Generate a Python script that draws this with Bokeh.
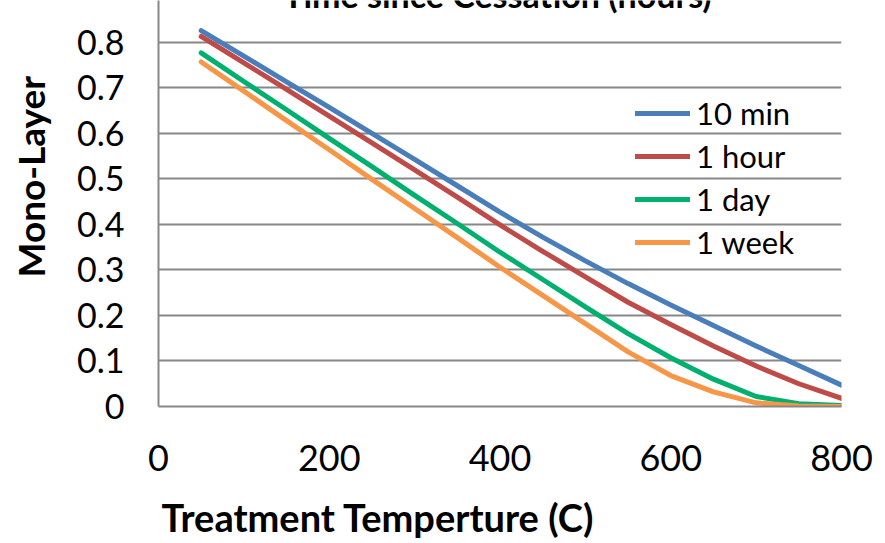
import math
from bokeh.plotting import figure
from bokeh.models import Range1d, Legend, LegendItem, Label, FixedTicker, Title
from bokeh.embed import file_html
from bokeh.resources import INLINE

# ---- data ----
temps = [50, 100, 150, 200, 250, 300, 350, 400, 450, 500, 550, 600, 650, 700, 750, 800]
s_10min = [0.826, 0.770, 0.713, 0.657, 0.600, 0.543, 0.485, 0.427, 0.372, 0.320, 0.270, 0.223, 0.178, 0.133, 0.090, 0.047]
s_1hour = [0.813, 0.755, 0.697, 0.638, 0.579, 0.520, 0.460, 0.399, 0.341, 0.285, 0.229, 0.180, 0.133, 0.089, 0.050, 0.018]
s_1day = [0.777, 0.714, 0.652, 0.589, 0.527, 0.464, 0.402, 0.339, 0.279, 0.219, 0.160, 0.107, 0.060, 0.022, 0.006, 0.002]
s_1week = [0.757, 0.693, 0.628, 0.564, 0.499, 0.435, 0.371, 0.306, 0.244, 0.182, 0.120, 0.068, 0.032, 0.008, 0.001, 0.000]
series_names = ["10 min", "1 hour", "1 day", "1 week"]
colors = ["#4A7EBB", "#BE4B48", "#00B06E", "#F79646"]
x_ticks = [0, 200, 400, 600, 800]
y_ticks = [0, 0.1, 0.2, 0.3, 0.4, 0.5, 0.6, 0.7, 0.8]
y_tick_labels = ["0", "0.1", "0.2", "0.3", "0.4", "0.5", "0.6", "0.7", "0.8"]
title_text = "Time since Cessation (hours)"
x_label = "Treatment Temperture (C)"
y_label = "Mono-Layer"

FONT = "Lato"
GRID = "#878787"

p = figure(width=885, height=543, output_backend="svg", toolbar_location=None,
           x_range=Range1d(0, 800), y_range=Range1d(0, 0.892),
           min_border_left=158, min_border_right=44, min_border_top=0, min_border_bottom=136)
p.outline_line_color = None
p.background_fill_color = "white"
p.border_fill_color = "white"

p.xgrid.visible = False
p.ygrid.ticker = FixedTicker(ticks=y_ticks)
p.ygrid.grid_line_color = GRID
p.ygrid.grid_line_width = 2

# axes
p.xaxis.ticker = FixedTicker(ticks=x_ticks)
p.xaxis.axis_line_color = GRID
p.xaxis.axis_line_width = 2
p.xaxis.major_tick_line_color = None
p.xaxis.minor_tick_line_color = None
p.xaxis.major_tick_out = 0
p.xaxis.minor_tick_out = 0
p.xaxis.major_label_text_font = FONT
p.xaxis.major_label_text_font_size = "36px"
p.xaxis.major_label_text_color = "black"
p.xaxis.major_label_standoff = 38
# blank spacer label (the real label is a Title so it can be offset)
p.xaxis.axis_label = " "
p.xaxis.axis_label_text_font_size = "1px"
p.xaxis.axis_label_standoff = 10

p.yaxis.ticker = FixedTicker(ticks=y_ticks)
p.yaxis.major_label_overrides = {t: l for t, l in zip(y_ticks, y_tick_labels)}
p.yaxis.axis_line_color = GRID
p.yaxis.axis_line_width = 2
p.yaxis.major_tick_line_color = None
p.yaxis.minor_tick_line_color = None
p.yaxis.major_tick_out = 0
p.yaxis.minor_tick_out = 0
p.yaxis.major_label_text_font = FONT
p.yaxis.major_label_text_font_size = "34px"
p.yaxis.major_label_text_color = "black"
p.yaxis.major_label_standoff = 34
p.yaxis.axis_label = " "
p.yaxis.axis_label_text_font_size = "1px"
p.yaxis.axis_label_standoff = 15

series = [s_10min, s_1hour, s_1day, s_1week]
items = []
for name, vals, c in zip(series_names, series, colors):
    r = p.line(temps, vals, line_color=c, line_width=5, line_cap="round", line_join="round")
    items.append(LegendItem(label=name, renderers=[r]))

legend = Legend(items=items, location=(477, 145), border_line_color=None,
                background_fill_alpha=0, glyph_width=55, glyph_height=36,
                label_height=36, spacing=5, padding=0, margin=0, label_standoff=6,
                label_text_font=FONT, label_text_font_size="31px", label_text_color="black")
p.add_layout(legend)

title = Label(x=397, y=0.905, text=title_text, text_align="center", text_baseline="middle",
              text_font=FONT, text_font_style="bold", text_font_size="34px", text_color="black")
p.add_layout(title)

xlab = Title(text=x_label, align="left", offset=3, standoff=8,
             text_font=FONT, text_font_style="bold", text_font_size="38px", text_color="black")
p.add_layout(xlab, "below")

ylab = Title(text=y_label, align="left", offset=129, standoff=3,
             text_font=FONT, text_font_style="bold", text_font_size="37px", text_color="black")
p.add_layout(ylab, "left")

mark = Label(x=-185, y=-0.06, text="!", text_align="center", text_baseline="alphabetic",
             text_font=FONT, text_font_size="22px", text_color="red")
p.add_layout(mark)

open("out.html", "w").write(file_html(p, INLINE))
